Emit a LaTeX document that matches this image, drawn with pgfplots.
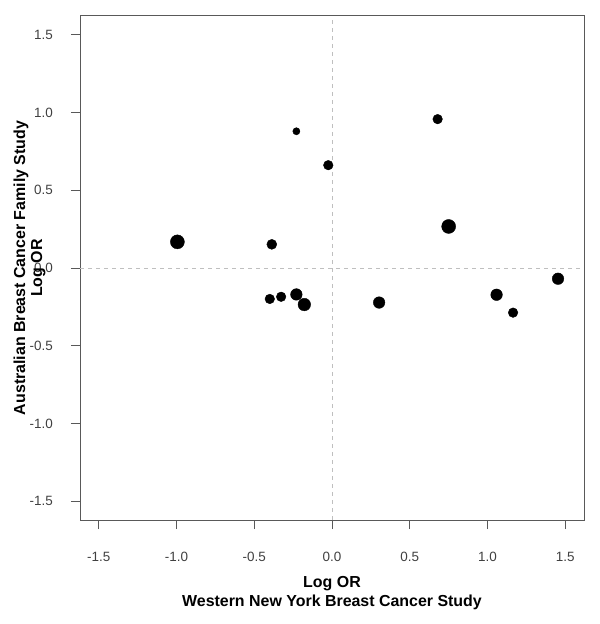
\documentclass[border=0pt]{standalone}
\usepackage{fontspec}
\setmainfont{Liberation Sans}
\usepackage{pgfplots}
\pgfplotsset{compat=1.18}
\usepackage{pgfplotstable}
\pgfplotstableread{
x y r
-0.994 0.168 7.0
-0.387 0.152 5.0
-0.229 0.879 3.6
-0.024 0.661 4.8
0.679 0.957 4.8
0.750 0.267 7.0
-0.400 -0.199 4.8
-0.327 -0.185 4.8
-0.229 -0.170 5.8
-0.178 -0.235 6.3
0.303 -0.222 5.8
1.058 -0.172 5.8
1.164 -0.287 4.8
1.453 -0.069 5.8
}\pts
\begin{document}
\begin{tikzpicture}
\useasboundingbox (0,0) rectangle (600bp,624bp);
\begin{axis}[
  at={(80bp,104bp)}, anchor=south west,
  scale only axis, width=504bp, height=504bp,
  xmin=-1.62, xmax=1.62, ymin=-1.62, ymax=1.62,
  xtick={-1.5,-1,-0.5,0,0.5,1,1.5},
  ytick={-1.5,-1,-0.5,0,0.5,1,1.5},
  xtick pos=bottom, ytick pos=left,
  tick align=outside,
  major tick length=9bp,
  every tick/.style={black!65, line width=0.9bp},
  axis line style={draw=black!65, line width=1bp},
  /pgf/number format/assume math mode=true,
  /pgf/number format/.cd, fixed, fixed zerofill, precision=1, /pgfplots/.cd,
  tick label style={font=\fontsize{13.5}{15}\selectfont, text=black!75},
  xticklabel style={inner sep=0pt, anchor=north, yshift=-23bp},
  yticklabel style={inner sep=0pt, anchor=east, xshift=-18bp},
  xlabel={Log OR\\Western New York Breast Cancer Study},
  xlabel style={at={(axis description cs:0.5,-0.1458)}, anchor=center, align=center, font=\bfseries\fontsize{16}{19}\selectfont},
  ylabel={Australian Breast Cancer Family Study\\Log OR},
  ylabel style={at={(axis description cs:-0.1002,0.5)}, anchor=center, align=center, font=\bfseries\fontsize{16}{17}\selectfont},
  clip=false,
]
\addplot[black!25, dashed, dash pattern=on 4bp off 4bp, line width=0.8bp] coordinates {(-1.62,0) (1.62,0)};
\addplot[black!25, dashed, dash pattern=on 4bp off 4bp, line width=0.8bp] coordinates {(0,-1.62) (0,1.62)};
\addplot[scatter, only marks, mark=*,
  point meta=\thisrow{r},
  scatter/use mapped color={draw=black, fill=black},
  visualization depends on={\thisrow{r} \as \rad},
  scatter/@pre marker code/.append style={/tikz/mark size=\rad bp}]
  table[x=x, y=y] {\pts};
\end{axis}
\end{tikzpicture}
\end{document}
